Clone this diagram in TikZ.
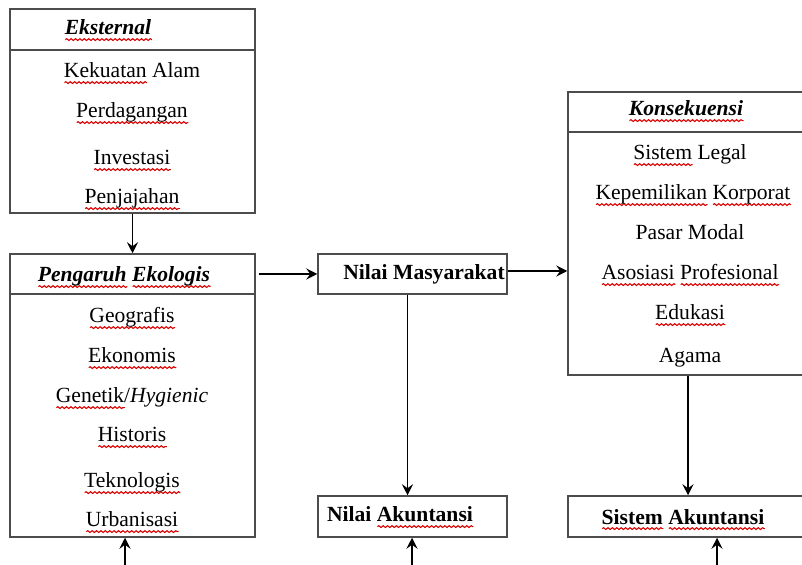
\documentclass[tikz,border=0pt]{standalone}
\usepackage{fontspec}
\setmainfont[Scale=1.08]{Liberation Serif}
\usepackage{xcolor}
\usetikzlibrary{fit,arrows.meta,decorations.pathmorphing}
\newsavebox\salbox
\newcommand\sal[1]{\sbox\salbox{#1}\rlap{\tikz[baseline=0pt,x=1pt,y=1pt]\draw[red!85!black,line width=0.55pt,decorate,decoration={snake,amplitude=0.45pt,segment length=2.2pt}] (0pt,-2.3pt) -- (\wd\salbox,-2.3pt);}\usebox\salbox}

\begin{document}
\begin{tikzpicture}[x=0.5pt,y=-0.5pt,
  box/.style={draw=black!70,line width=0.75pt,inner sep=0pt},
  arr/.style={line width=0.7pt,-{Stealth[length=5.5pt,width=5.5pt,inset=2pt]}},
  hd/.style={anchor=base,font=\bfseries\itshape},
  item/.style={anchor=base},
  lbl/.style={anchor=base,font=\bfseries},
]
\useasboundingbox (0,0) rectangle (802,565);
\clip (0,0) rectangle (802,565);
% boxes
\node[box,fit={(10,9) (255,213)}] (ekst) {};
\node[box,fit={(10,254) (255,537)}] (peng) {};
\node[box,fit={(318,254) (507,294)}] (masy) {};
\node[box,fit={(318,496) (507,537)}] (akun) {};
\node[box,fit={(568,92) (808,375)}] (kons) {};
\node[box,fit={(568,496) (808,537)}] (sist) {};
% header rules
\draw[box] (ekst.west |- 0,50) -- (ekst.east |- 0,50);
\draw[box] (peng.west |- 0,294) -- (peng.east |- 0,294);
\draw[box] (kons.west |- 0,132) -- (kons.east |- 0,132);
% Eksternal
\node[hd] (hEkst) at (108,35) {\sal{Eksternal}};
\node[item] (kek) at (132,78) {\sal{Kekuatan} Alam};
\node[item] (dag) at (132,118) {\sal{Perdagangan}};
\node[item] (inv) at (132,165) {\sal{Investasi}};
\node[item] (jaj) at (132,204) {\sal{Penjajahan}};
% Pengaruh Ekologis
\node[hd] (hPeng) at (124,282) {\sal{Pengaruh} \sal{Ekologis}};
\node[item] (geo) at (132,323) {\sal{Geografis}};
\node[item] (eko) at (132,363) {\sal{Ekonomis}};
\node[item] (gen) at (132,403) {\sal{Genetik}/\textit{Hygienic}};
\node[item] (his) at (132,442) {\sal{Historis}};
\node[item] (tek) at (132,488) {\sal{Teknologis}};
\node[item] (urb) at (132,527) {\sal{Urbanisasi}};
% Nilai
\node[lbl] (tMasy) at (424,280) {Nilai Masyarakat};
\node[lbl] (tAkun) at (400,522) {Nilai \sal{Akuntansi}};
% Konsekuensi
\node[hd] (hKons) at (686,116) {\sal{Konsekuensi}};
\node[item] (leg) at (690,160) {\sal{Sistem} Legal};
\node[item] (kor) at (693,200) {\sal{Kepemilikan} \sal{Korporat}};
\node[item] (pas) at (690,240) {Pasar Modal};
\node[item] (aso) at (690,280) {\sal{Asosiasi} \sal{Profesional}};
\node[item] (edu) at (690,320) {\sal{Edukasi}};
\node[item] (aga) at (690,363) {Agama};
\node[lbl] (tSist) at (683,524) {\sal{Sistem} \sal{Akuntansi}};
% connectors
\coordinate (inPeng) at (125,570);
\coordinate (inAkun) at (412,570);
\coordinate (inSist) at (717,570);
\draw[arr] (ekst.south) -- (peng.north);
\draw[arr] (masy.west -| peng.east) ++(3,0) -- (masy.west);
\draw[arr] ([yshift=1.5pt]masy.east) -- ([yshift=1.5pt]masy.east -| kons.west);
\draw[arr] ([xshift=-2.5pt]masy.south) -- ([xshift=-2.5pt]akun.north);
\draw[arr] (kons.south) -- (sist.north);
\draw[arr] (inPeng) -- (inPeng |- peng.south);
\draw[arr] (inAkun) -- (inAkun |- akun.south);
\draw[arr] (inSist) -- (inSist |- sist.south);
\end{tikzpicture}
\end{document}
